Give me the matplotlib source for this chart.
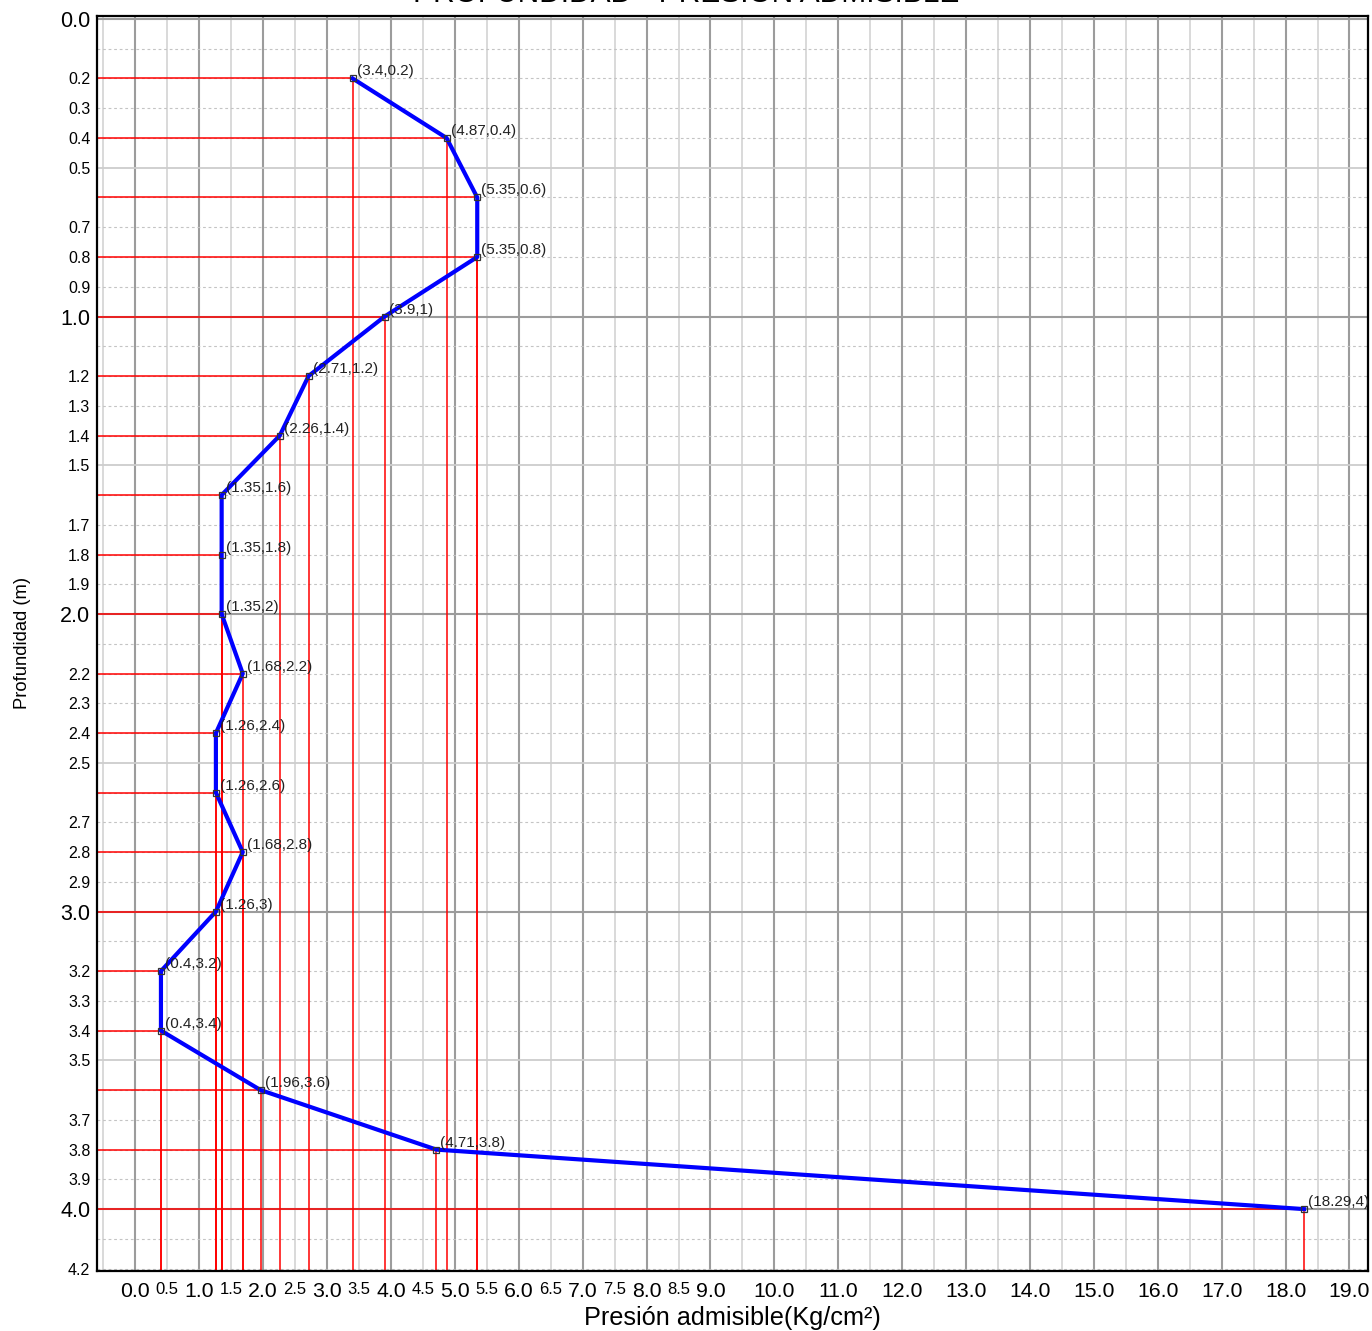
import numpy as np
import matplotlib
matplotlib.use('Agg')
import matplotlib.pyplot as plt

plt.rcParams['font.family'] = ['Liberation Sans', 'DejaVu Sans']

# data
profundidad = [0.2, 0.4, 0.6, 0.8, 1.0, 1.2, 1.4, 1.6, 1.8, 2.0,
               2.2, 2.4, 2.6, 2.8, 3.0, 3.2, 3.4, 3.6, 3.8, 4.0]
presion = [3.4, 4.87, 5.35, 5.35, 3.9, 2.71, 2.26, 1.35, 1.35, 1.35,
           1.68, 1.26, 1.26, 1.68, 1.26, 0.4, 0.4, 1.96, 4.71, 18.29]

y_ticks = [0.0, 0.2, 0.3, 0.4, 0.5, 0.7, 0.8, 0.9,
           1.0, 1.2, 1.3, 1.4, 1.5, 1.7, 1.8, 1.9,
           2.0, 2.2, 2.3, 2.4, 2.5, 2.7, 2.8, 2.9,
           3.0, 3.2, 3.3, 3.4, 3.5, 3.7, 3.8, 3.9,
           4.0, 4.2]
x_ticks = [0.0, 0.5, 1.0, 1.5, 2.0, 2.5, 3.0, 3.5, 4.0, 4.5, 5.0, 5.5,
           6.0, 6.5, 7.0, 7.5, 8.0, 8.5, 9.0, 10.0, 11.0, 12.0, 13.0,
           14.0, 15.0, 16.0, 17.0, 18.0, 19.0]

xmin, xmax = -0.596, 19.29
ymin, ymax = -0.011, 4.207

fig = plt.figure(figsize=(13.72, 13.31), dpi=100)
ax = fig.add_axes([97.3 / 1372, 60.3 / 1331, (1368 - 97.3) / 1372, (1270.7 - 15.7) / 1331])

# background grid
for gx in np.arange(-0.5, 19.01, 0.5):
    if float(gx).is_integer():
        ax.axvline(gx, color='#9c9c9c', lw=1.5, zorder=0)
    else:
        ax.axvline(gx, color='#cfcfcf', lw=1.1, zorder=0)
for gy in np.round(np.arange(0, 4.21, 0.1), 1):
    if float(gy).is_integer():
        ax.axhline(gy, color='#9c9c9c', lw=1.5, zorder=0)
    elif abs(gy * 2 - round(gy * 2)) < 1e-9:
        ax.axhline(gy, color='#cdcdcd', lw=1.3, zorder=0)
    else:
        ax.axhline(gy, color='#c4c4c4', lw=0.8, ls=(0, (2.5, 2.5)), zorder=0)

# red guide lines
ax.hlines(profundidad, xmin, presion, color='red', lw=1.1, zorder=2)
ax.vlines(presion, profundidad, ymax, color='red', lw=1.1, zorder=2)

# profile
ax.plot(presion, profundidad, color='#0000ff', lw=3, zorder=3)
ax.plot(presion, profundidad, ls='none', marker='s', ms=4.5, mfc='none',
        mec='#333333', mew=0.9, zorder=4)

for px, py in zip(presion, profundidad):
    ax.annotate('({:g},{:g})'.format(px, py), (px, py), xytext=(4, 7),
                textcoords='offset pixels', fontsize=11, color='#222222',
                ha='left', va='center', zorder=5)

ax.set_xlim(xmin, xmax)
ax.set_ylim(ymax, ymin)

ax.set_yticks(y_ticks)
ax.set_yticklabels(['{:.1f}'.format(v) for v in y_ticks])
for lab, v in zip(ax.get_yticklabels(), y_ticks):
    lab.set_fontsize(15.5 if float(v).is_integer() else 11.5)

ax.set_xticks(x_ticks)
ax.set_xticklabels(['{:.1f}'.format(v) for v in x_ticks])
for lab, v in zip(ax.get_xticklabels(), x_ticks):
    lab.set_fontsize(15.3 if float(v).is_integer() else 12)

ax.tick_params(length=0, pad=5)
ax.tick_params(axis='x', pad=8)

for s in ax.spines.values():
    s.set_linewidth(1.6)
    s.set_color('black')

ax.set_xlabel('Presión admisible(Kg/cm²)', fontsize=18.2, labelpad=4)
ax.set_ylabel('Profundidad (m)', fontsize=13.2, labelpad=21)

fig.text(0.5, 1 - 2.5 / 1331, 'PROFUNDIDAD - PRESIÓN ADMISIBLE', ha='center',
         va='baseline', fontsize=21.5)

fig.savefig('out.png', dpi=100)
